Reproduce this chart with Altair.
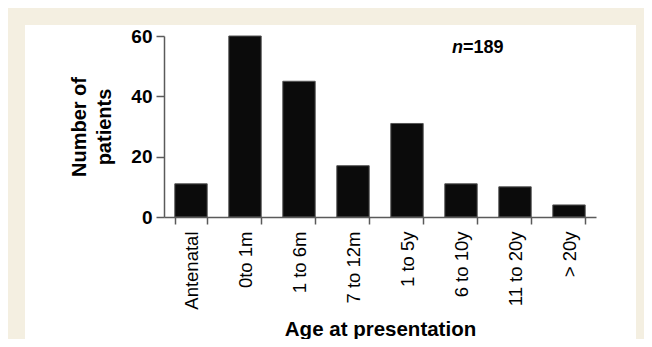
import altair as alt
import pandas as pd

categories = ["Antenatal", "0to 1m", "1 to 6m", "7 to 12m", "1 to 5y", "6 to 10y", "11 to 20y", "> 20y"]
patients = [11, 60, 45, 17, 31, 11, 10, 4]
y_ticks = [0, 20, 40, 60]
total = sum(patients)

df = pd.DataFrame({"age": categories, "n": patients})

FONT = "Liberation Sans"

frame = alt.Chart(alt.Data(values=[{}])).mark_rect(fill="white").encode(
    x=alt.value(-139), x2=alt.value(472), y=alt.value(-11), y2=alt.value(303)
)

bars = alt.Chart(df).mark_bar(fill="#0b0b0b", stroke="#555555", strokeWidth=1).encode(
    x=alt.X("age:N", sort=categories,
            scale=alt.Scale(paddingInner=0.4, paddingOuter=0.2),
            axis=alt.Axis(title="Age at presentation", labelAngle=270, labelAlign="right",
                          labelBaseline="middle", labelFontSize=18.5, labelPadding=7,
                          tickSize=7, tickBand="extent", titleFontSize=20.5,
                          titleFontWeight="bold", titlePadding=10, zindex=1)),
    y=alt.Y("n:Q", scale=alt.Scale(domain=[0, 60], nice=False),
            axis=alt.Axis(title=["Number of", "patients"], values=y_ticks, tickSize=8,
                          labelFontSize=19, labelFontWeight="bold", labelPadding=4,
                          titleFontSize=20, titleFontWeight="bold", titleLineHeight=25,
                          titlePadding=16, grid=False, zindex=1)),
)

ann_n = alt.Chart(alt.Data(values=[{"t": "n"}])).mark_text(
    font=FONT, fontSize=18, fontWeight="bold", fontStyle="italic", align="right",
    baseline="middle", color="black"
).encode(x=alt.value(299), y=alt.value(12), text="t:N")

ann_total = alt.Chart(alt.Data(values=[{"t": f"={total}"}])).mark_text(
    font=FONT, fontSize=18, fontWeight="bold", align="left", baseline="middle", color="black"
).encode(x=alt.value(299), y=alt.value(12), text="t:N")

chart = alt.layer(frame, bars, ann_n, ann_total).properties(
    width=432, height=181,
    autosize=alt.AutoSizeParams(type="none"),
    padding={"left": 156, "top": 28, "right": 48, "bottom": 122},
    background="#f4efe1",
).configure_view(stroke=None).configure_axis(
    labelFont=FONT, titleFont=FONT, labelColor="black", titleColor="black",
    domainColor="#5a5a5a", tickColor="#5a5a5a", domainWidth=1.5, tickWidth=1.5,
)

chart.save("out.html", embed_options={"renderer": "svg", "actions": False})
